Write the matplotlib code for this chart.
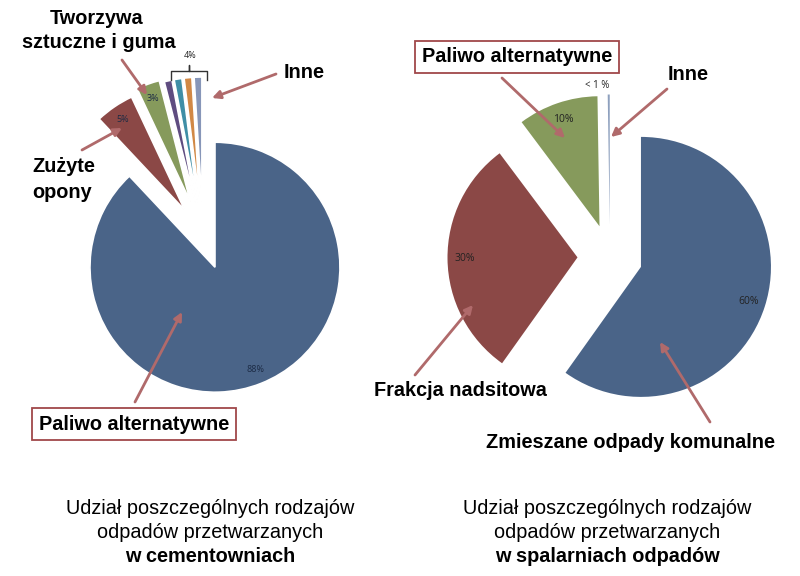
import matplotlib
matplotlib.use('Agg')
import matplotlib.pyplot as plt

# wartosci
cem_labels = ['Paliwo alternatywne', 'Zużyte opony', 'Tworzywa sztuczne i guma',
              'Inne 1', 'Inne 2', 'Inne 3', 'Inne 4']
cem_values = [88, 5, 3, 1, 1, 1, 1]
cem_explode = [0.26, 0.26, 0.3, 0.28, 0.28, 0.28, 0.28]
cem_colors = ['#4A6488', '#8B4846', '#869A5C', '#5F4C80', '#3F8EA6', '#D18845', '#8796B8']

spal_labels = ['Zmieszane odpady komunalne', 'Frakcja nadsitowa', 'Paliwo alternatywne', 'Inne']
spal_values = [60, 30, 10, 0.25]
spal_explode = [0.25, 0.25, 0.25, 0.25]
spal_colors = ['#4A6488', '#8B4846', '#869A5C', '#8EA0BE']

W, H = 800, 576
fig = plt.figure(figsize=(W / 100, H / 100), dpi=100)
fig.patch.set_facecolor('white')

ARROW = '#B06A6B'
BOX = '#A0484A'
FONT = ['Liberation Sans', 'DejaVu Sans']
PCT_FONT = ['Open Sans', 'DejaVu Sans']


def pct_fmt(p):
    return '{:.0f}%'.format(p) if p >= 2.5 else ''


def pie_axes(cx, cy, r):
    # os ustawiona tak, zeby promien 1 odpowiadal r pikselom
    ax = fig.add_axes([(cx - r) / W, (H - cy - r) / H, 2 * r / W, 2 * r / H])
    return ax


ax1 = pie_axes(203, 237, 125)
w1, t1, p1 = ax1.pie(cem_values, colors=cem_colors, startangle=90, counterclock=False,
                     explode=cem_explode, autopct=pct_fmt, pctdistance=0.88,
                     wedgeprops=dict(linewidth=1.2, edgecolor='white'),
                     textprops=dict(fontsize=6.5, family=PCT_FONT))
for p in p1:
    p.set_color('#1B2A44')

ax2 = pie_axes(610, 257, 130)
w2, t2, p2 = ax2.pie(spal_values, colors=spal_colors, startangle=90, counterclock=False,
                     explode=spal_explode, autopct=pct_fmt, pctdistance=0.87,
                     wedgeprops=dict(linewidth=0),
                     textprops=dict(fontsize=7.5, family=PCT_FONT))
for p in p2:
    p.set_color('#222222')

for ax, ws in ((ax1, w1), (ax2, w2)):
    ax.set_xlim(-1, 1)
    ax.set_ylim(-1, 1)
    ax.set_aspect('auto')
    ax.axis('off')
    for w in ws:
        w.set_clip_on(False)

# warstwa z opisami w pikselach
ov = fig.add_axes([0, 0, 1, 1], zorder=5)
ov.set_xlim(0, W)
ov.set_ylim(H, 0)
ov.axis('off')
ov.patch.set_alpha(0)


def label(x, y, s, ha='center', box=False, weight='bold', size=14.3):
    kw = dict(ha=ha, va='center', fontsize=size, fontweight=weight, family=FONT, color='black')
    if box:
        kw['bbox'] = dict(boxstyle='square,pad=0.35', fc='white', ec=BOX, lw=1.3)
    ov.text(x, y, s, **kw)


def arrow(x0, y0, x1, y1):
    ov.annotate('', xy=(x1, y1), xytext=(x0, y0),
                arrowprops=dict(arrowstyle='-|>', color=ARROW, lw=2, mutation_scale=12,
                                shrinkA=0, shrinkB=0))


# lewy wykres
label(97, 18, 'Tworzywa')
label(99, 43, 'sztuczne i guma')
label(304, 72, 'Inne')
label(32, 167, 'Zużyte', ha='left')
label(32, 192, 'opony', ha='left')
label(134, 424, 'Paliwo alternatywne', box=True)
arrow(122, 60, 147, 95)
arrow(276, 74, 212, 98)
arrow(82, 150, 122, 128)
arrow(135, 402, 182, 312)

ov.text(190, 55, '4%', ha='center', va='center', fontsize=6.5, family=PCT_FONT, color='#222222')
ov.plot([171, 171, 189, 189, 189, 207, 207], [80, 71, 71, 65, 71, 71, 80], color='#333333', lw=1)

# prawy wykres
label(517, 57, 'Paliwo alternatywne', box=True)
label(688, 75, 'Inne')
label(460, 390, 'Frakcja nadsitowa')
label(631, 442, 'Zmieszane odpady komunalne')
ov.text(597, 85, '< 1 %', ha='center', va='center', fontsize=7, family=PCT_FONT, color='#222222')
arrow(502, 78, 565, 138)
arrow(667, 89, 611, 137)
arrow(415, 375, 473, 305)
arrow(710, 422, 660, 342)

# podpisy
for x, last in ((210, 'w cementowniach'), (607, 'w spalarniach odpadów')):
    label(x, 508, 'Udział poszczególnych rodzajów', weight='normal')
    label(x, 532, 'odpadów przetwarzanych', weight='normal')
    label(x, 556, last)

fig.savefig('out.png', dpi=100, facecolor='white')
